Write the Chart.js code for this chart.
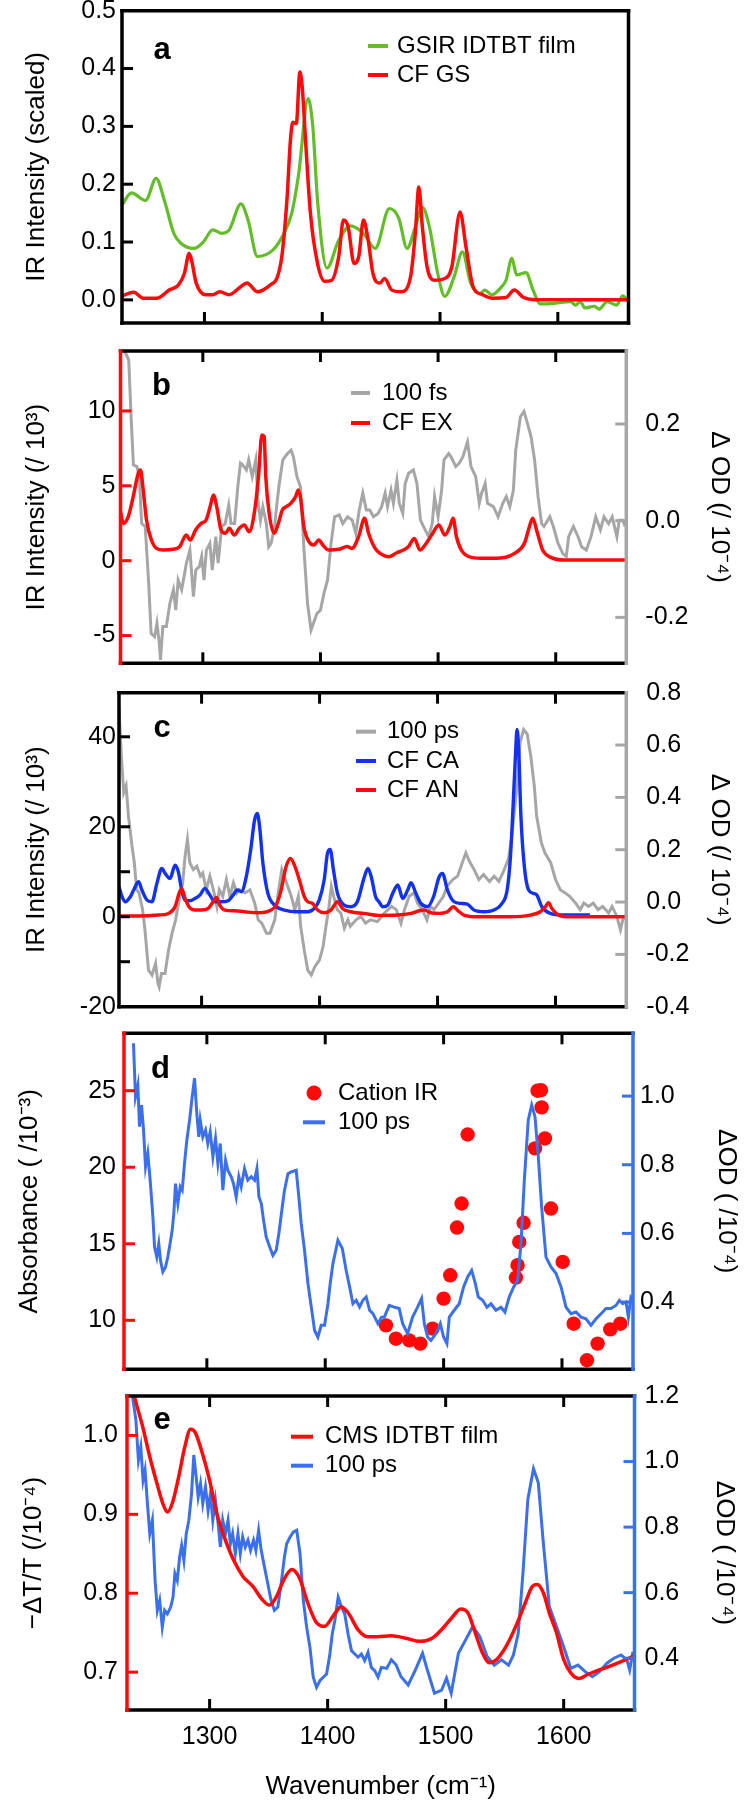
<!DOCTYPE html>
<html><head><meta charset="utf-8">
<script src="https://cdn.jsdelivr.net/npm/chart.js@4.4.1/dist/chart.umd.min.js"></script>
<style>
html,body{margin:0;padding:0;background:#fff;width:750px;height:1804px;overflow:hidden;position:relative;}
canvas{position:absolute;left:0;}
</style></head><body>
<script>
// ---------------- DATA ----------------
const xTicks = [1300, 1400, 1500, 1600];

// panel a
const aYTicks = [0.0, 0.1, 0.2, 0.3, 0.4, 0.5];
const aYMarks = [0.0, 0.1, 0.2, 0.3, 0.4];
const gsirFilm = [[1230,0.164],[1238,0.185],[1250,0.172],[1259,0.21],[1266,0.172],[1274,0.115],[1280,0.098],[1291,0.089],[1299,0.10],[1307,0.121],[1315,0.115],[1321,0.121],[1331,0.166],[1337,0.138],[1345,0.075],[1358,0.086],[1366,0.109],[1374,0.149],[1380,0.218],[1388,0.348],[1392,0.299],[1396,0.172],[1404,0.055],[1414,0.103],[1424,0.128],[1435,0.115],[1445,0.089],[1457,0.158],[1465,0.141],[1472,0.089],[1479,0.126],[1485,0.160],[1491,0.126],[1498,0.046],[1504,0.006],[1512,0.040],[1519,0.083],[1526,0.029],[1534,0.011],[1538,0.017],[1544,0.009],[1552,0.022],[1556,0.034],[1561,0.072],[1565,0.043],[1573,0.047],[1579,0.017],[1585,-0.007],[1597,-0.006],[1611,-0.003],[1615,-0.009],[1619,-0.003],[1623,-0.014],[1631,-0.011],[1635,-0.016],[1642,-0.003],[1650,-0.009],[1655,0.007],[1660,-0.003]];
const cfGS = [[1230,0.007],[1240,0.013],[1248,0.003],[1260,0.003],[1270,0.017],[1278,0.026],[1283,0.046],[1287,0.080],[1289,0.069],[1293,0.029],[1301,0.009],[1307,0.009],[1313,0.014],[1321,0.009],[1331,0.023],[1336,0.029],[1345,0.014],[1356,0.026],[1362,0.040],[1366,0.080],[1370,0.172],[1373,0.276],[1375,0.307],[1378,0.305],[1381,0.394],[1383,0.368],[1386,0.270],[1390,0.149],[1396,0.063],[1402,0.032],[1408,0.034],[1414,0.075],[1418,0.138],[1422,0.126],[1427,0.063],[1431,0.075],[1435,0.138],[1439,0.103],[1443,0.046],[1449,0.029],[1453,0.037],[1459,0.017],[1467,0.014],[1475,0.040],[1479,0.115],[1482,0.195],[1485,0.126],[1489,0.057],[1495,0.034],[1504,0.037],[1510,0.057],[1517,0.152],[1522,0.092],[1528,0.023],[1536,0.009],[1544,0.003],[1556,0.004],[1563,0.017],[1571,0.004],[1581,0.0],[1660,0.0]];

// panel b
const bYTicks = [-5, 0, 5, 10];
const bY1Ticks = [-0.2, 0.0, 0.2];
const fs100 = [[1232,0.36],[1235,0.343],[1237,0.332],[1239,0.215],[1241,0.115],[1244,0.112],[1246,0.091],[1248,-0.006],[1251,-0.012],[1254,-0.130],[1256,-0.233],[1259,-0.240],[1261,-0.212],[1263,-0.254],[1264,-0.288],[1266,-0.219],[1269,-0.219],[1272,-0.171],[1275,-0.143],[1277,-0.185],[1279,-0.123],[1282,-0.143],[1284,-0.116],[1286,-0.088],[1289,-0.061],[1292,-0.157],[1294,-0.102],[1297,-0.095],[1299,-0.074],[1301,-0.123],[1303,-0.061],[1306,-0.047],[1308,-0.102],[1311,-0.033],[1313,-0.088],[1316,-0.012],[1319,-0.006],[1322,0.032],[1324,-0.006],[1327,-0.006],[1330,0.077],[1332,0.119],[1334,0.115],[1337,0.105],[1339,0.126],[1342,0.091],[1345,0.126],[1347,0.036],[1349,0.001],[1351,0.029],[1354,-0.006],[1356,-0.054],[1358,-0.047],[1361,-0.012],[1363,0.036],[1365,0.077],[1368,0.126],[1372,0.139],[1375,0.146],[1377,0.132],[1380,0.091],[1383,0.070],[1386,-0.061],[1389,-0.171],[1392,-0.226],[1394,-0.212],[1397,-0.192],[1400,-0.185],[1403,-0.150],[1406,-0.123],[1409,-0.047],[1412,0.008],[1416,0.012],[1419,-0.006],[1423,0.008],[1427,0.001],[1430,-0.026],[1433,0.022],[1436,0.057],[1439,0.022],[1442,0.022],[1445,0.008],[1449,0.015],[1452,0.029],[1455,0.057],[1457,0.029],[1460,0.063],[1462,0.036],[1465,0.084],[1467,0.036],[1470,0.015],[1472,0.077],[1475,0.098],[1479,0.105],[1482,0.077],[1485,0.001],[1489,-0.019],[1492,-0.033],[1495,-0.006],[1497,0.050],[1500,0.008],[1503,0.063],[1505,0.126],[1509,0.139],[1511,0.132],[1515,0.112],[1518,0.119],[1521,0.132],[1525,0.163],[1528,0.112],[1532,0.091],[1535,0.036],[1537,0.057],[1540,0.077],[1542,0.036],[1547,0.029],[1551,0.008],[1555,0.036],[1558,0.050],[1561,0.029],[1564,0.063],[1566,0.146],[1570,0.215],[1573,0.226],[1576,0.201],[1579,0.174],[1582,0.126],[1585,0.050],[1588,-0.006],[1590,-0.012],[1595,0.008],[1598,-0.012],[1602,-0.047],[1606,-0.068],[1609,-0.074],[1611,-0.033],[1615,-0.012],[1619,-0.033],[1622,-0.054],[1626,-0.061],[1630,-0.033],[1634,0.008],[1638,-0.019],[1641,0.008],[1645,-0.006],[1648,0.008],[1652,-0.033],[1654,0.001],[1657,0.001],[1659,-0.012]];
const cfEX = [[1230,3.3],[1232.4,2.49],[1236.6,2.94],[1240.8,4.28],[1245.1,5.84],[1247,6.06],[1249.3,4.72],[1252.1,2.72],[1256.3,1.38],[1260.6,0.82],[1266.2,0.71],[1274.6,0.76],[1280.3,0.94],[1285.9,1.71],[1289.3,1.38],[1293.8,2.05],[1298.6,2.49],[1302.8,2.72],[1306.2,3.61],[1309,4.39],[1311.8,3.61],[1315.5,2.05],[1319.2,1.83],[1322.5,2.16],[1326.8,1.71],[1331,2.16],[1335.2,2.38],[1339.4,1.94],[1343.7,3.16],[1347.3,5.61],[1350.2,8.40],[1352.1,8.29],[1353.5,5.61],[1356.4,3.16],[1360.6,1.83],[1364.2,2.49],[1367.6,3.39],[1371,3.61],[1374.7,3.83],[1378.9,4.28],[1381.1,4.72],[1383.1,4.16],[1385.9,2.27],[1390.2,1.27],[1394.4,1.05],[1398.6,1.38],[1402,1.05],[1407.1,0.71],[1415.5,0.76],[1422.6,0.94],[1426.8,0.82],[1432.4,1.60],[1437.5,2.83],[1440.9,1.83],[1446.5,0.82],[1450.7,0.49],[1457.9,0.27],[1464.9,0.53],[1470.5,0.71],[1474.8,0.94],[1479.8,1.49],[1484.6,0.71],[1488.9,1.05],[1494.5,1.71],[1500.7,2.38],[1505.8,1.71],[1510,2.27],[1512.8,2.83],[1515.6,1.60],[1519.8,0.71],[1528.3,0.22],[1539.6,0.16],[1556.5,0.22],[1565,0.49],[1573.4,1.16],[1577.6,2.27],[1580.4,2.83],[1584.1,1.94],[1588.9,0.71],[1595.9,0.22],[1607.2,0.04],[1660,0.04]];

// panel c
const cYTicks = [-20, 0, 20, 40];
const cYMarks = [-10, 0, 10, 20, 40];
const cY1Ticks = [-0.4, -0.2, 0.0, 0.2, 0.4, 0.6, 0.8];
const cY1Marks = [-0.2, 0.0, 0.2, 0.4, 0.6];
const ps100c = [[1230,0.738],[1232,0.559],[1234,0.418],[1236,0.444],[1238,0.329],[1241,0.214],[1243,0.150],[1245,0.047],[1247,0.035],[1250,-0.029],[1252,-0.106],[1255,-0.260],[1258,-0.279],[1261,-0.234],[1263,-0.311],[1264,-0.324],[1266,-0.273],[1269,-0.273],[1272,-0.183],[1275,-0.119],[1278,-0.068],[1281,0.009],[1284,0.073],[1286,0.175],[1288,0.239],[1290,0.150],[1293,0.124],[1296,0.137],[1299,0.099],[1301,0.111],[1304,0.047],[1307,0.099],[1310,0.047],[1313,-0.017],[1315,0.047],[1318,0.022],[1321,0.086],[1324,0.022],[1327,0.073],[1330,0.035],[1332,0.047],[1337,0.035],[1341,0.047],[1345,-0.004],[1348,-0.068],[1351,-0.081],[1355,-0.119],[1358,-0.119],[1362,-0.068],[1365,0.035],[1368,0.124],[1370,0.099],[1373,0.060],[1376,0.022],[1379,-0.029],[1382,0.022],[1384,-0.093],[1387,-0.183],[1390,-0.260],[1393,-0.279],[1396,-0.247],[1400,-0.221],[1403,-0.170],[1405,-0.106],[1408,-0.017],[1410,0.060],[1412,0.022],[1415,-0.029],[1418,-0.042],[1421,-0.100],[1424,-0.068],[1426,-0.093],[1431,-0.068],[1435,-0.055],[1439,-0.081],[1443,-0.068],[1449,-0.075],[1455,-0.042],[1461,-0.017],[1465,-0.029],[1469,-0.081],[1472,-0.029],[1476,0.022],[1480,0.035],[1483,-0.004],[1487,-0.029],[1491,-0.068],[1494,-0.017],[1497,-0.029],[1501,-0.004],[1505,0.022],[1508,0.060],[1513,0.086],[1517,0.099],[1521,0.150],[1524,0.188],[1527,0.156],[1531,0.124],[1535,0.086],[1539,0.105],[1544,0.079],[1548,0.099],[1552,0.079],[1556,0.118],[1560,0.163],[1563,0.252],[1567,0.431],[1570,0.610],[1573,0.659],[1576,0.642],[1579,0.559],[1582,0.444],[1584,0.329],[1588,0.226],[1591,0.188],[1596,0.150],[1600,0.086],[1604,0.047],[1608,0.035],[1612,0.022],[1617,-0.004],[1621,-0.029],[1624,-0.004],[1628,-0.017],[1632,-0.004],[1636,-0.029],[1640,-0.017],[1645,-0.042],[1648,-0.017],[1652,-0.055],[1655,-0.106],[1657,-0.068],[1660,-0.05]];
const cfCA = [[1230,6.67],[1232.6,4.44],[1235.4,3.33],[1239.6,4.44],[1242.4,5.93],[1246.6,7.78],[1249.4,5.93],[1253.7,3.70],[1257.9,3.33],[1262.1,7.41],[1266.3,10.74],[1269.1,9.63],[1273.3,8.52],[1277.5,11.48],[1280.3,10.0],[1283.1,5.93],[1285.9,3.70],[1290.2,3.56],[1294.4,4.07],[1298.6,4.81],[1302.8,6.30],[1307,4.81],[1311.2,3.33],[1316.9,3.33],[1322.5,3.56],[1326.7,4.81],[1330.3,5.93],[1333.7,5.56],[1337.9,8.89],[1341.6,14.81],[1344.9,21.48],[1347.2,22.96],[1349.2,20.0],[1352,11.85],[1356.2,5.19],[1361.8,2.59],[1370.2,1.48],[1381.5,1.11],[1389.9,1.11],[1395.5,1.85],[1399.7,3.70],[1403.9,8.15],[1406.7,14.07],[1409,14.96],[1411.8,10.37],[1415.2,5.19],[1420.8,2.59],[1426.4,2.22],[1432,3.33],[1437.6,8.52],[1441,10.74],[1443.8,8.89],[1447.5,4.44],[1450.5,3.3],[1453.6,2.22],[1457.8,2.59],[1462,5.19],[1466.3,7.04],[1470.5,4.07],[1474.7,5.93],[1477.5,7.56],[1481.7,5.19],[1485.9,2.96],[1491.5,2.22],[1496.6,4.44],[1501.4,8.89],[1504.2,9.63],[1508.4,5.93],[1514,3.33],[1519.6,2.96],[1525.2,2.81],[1530.9,1.48],[1539.3,1.11],[1547.7,1.48],[1554.7,2.96],[1559,5.93],[1561.8,13.33],[1564,24.44],[1566,35.56],[1567.4,41.63],[1568.8,37.04],[1570.7,22.22],[1573.6,11.11],[1577.2,5.93],[1581.4,5.19],[1584.2,4.81],[1588.4,2.22],[1595.5,0.74],[1606.7,0.37],[1629.2,0.37]];
const cfAN = [[1230,0.15],[1246.6,0.15],[1263.5,0.37],[1271.9,0.74],[1277.5,2.22],[1280.9,5.19],[1283.1,6.30],[1286,4.07],[1289.3,2.22],[1294.4,1.48],[1300,1.48],[1305.6,1.85],[1309.8,3.33],[1312.6,4.30],[1315.4,2.59],[1319.7,1.48],[1328.1,1.33],[1336.5,1.11],[1347.8,0.89],[1357.6,1.33],[1363.2,2.59],[1367.4,5.93],[1371.6,11.11],[1375.3,12.96],[1378.7,11.48],[1382.9,8.15],[1387.1,4.44],[1390,3.33],[1394.1,2.96],[1398.3,1.48],[1403.9,0.89],[1409.6,1.48],[1415.2,3.33],[1419.4,1.85],[1426.4,1.11],[1437.6,0.74],[1450,0.3],[1466.3,0.37],[1477.5,0.74],[1484.5,1.33],[1488.7,1.48],[1494.4,0.89],[1501.4,0.74],[1508.4,1.11],[1513.4,2.22],[1516.8,1.48],[1522.4,0.37],[1533.7,0],[1561.8,0],[1578.6,0.37],[1587.1,1.11],[1591.3,2.22],[1594.1,3.11],[1596.9,1.85],[1602.5,0.37],[1609.6,0],[1660,0]];

// panel d
const dYTicks = [10, 15, 20, 25];
const dY1Ticks = [0.4, 0.6, 0.8, 1.0];
const cationIR = [[1451.3,9.67],[1459.7,8.80],[1471,8.69],[1480.3,8.48],[1490.7,9.46],[1500,11.42],[1505.6,12.94],[1511.3,16.06],[1515.2,17.63],[1520.3,22.14],[1561.1,12.79],[1562.5,13.60],[1563.9,15.12],[1567.6,16.37],[1577.2,21.23],[1579.4,25.0],[1582.3,25.04],[1582.8,23.91],[1585.6,21.88],[1590.7,17.30],[1600.6,13.82],[1609.9,9.78],[1621.1,7.39],[1630.1,8.48],[1640.8,9.41],[1649.3,9.78]];
const ps100d = [[1238,1.154],[1239.7,0.998],[1241.7,1.032],[1243.1,0.911],[1244.8,0.974],[1246.5,0.901],[1248.2,0.794],[1250.1,0.833],[1252.1,0.755],[1254.4,0.648],[1255.8,0.561],[1257.7,0.531],[1259.4,0.570],[1260.8,0.522],[1262.8,0.488],[1265.1,0.502],[1267,0.531],[1268.5,0.561],[1270.7,0.609],[1272.1,0.658],[1273.5,0.745],[1275.5,0.687],[1277.5,0.736],[1279.2,0.726],[1281.1,0.804],[1283.1,0.872],[1285.4,0.930],[1287.6,0.998],[1289.6,1.052],[1291.5,0.949],[1293.2,0.881],[1294.4,0.930],[1296.6,0.881],[1298.9,0.901],[1300.8,0.862],[1302.8,0.896],[1305.1,0.823],[1307.3,0.877],[1309.3,0.804],[1311.3,0.862],[1313.5,0.726],[1315.8,0.813],[1317.7,0.784],[1320.6,0.765],[1322.5,0.745],[1324.8,0.706],[1327,0.765],[1329,0.736],[1331.8,0.789],[1334.6,0.755],[1337.5,0.765],[1340.3,0.755],[1342.3,0.789],[1344,0.706],[1346,0.687],[1347.9,0.638],[1350.1,0.590],[1353,0.561],[1355.8,0.536],[1358.6,0.551],[1360.8,0.599],[1363.7,0.677],[1365.6,0.726],[1368.5,0.774],[1371.3,0.779],[1375.5,0.784],[1377.7,0.706],[1379.7,0.629],[1382.5,0.551],[1385.4,0.454],[1388.2,0.386],[1391,0.317],[1393.8,0.298],[1396.6,0.332],[1399.4,0.332],[1402.3,0.395],[1404.2,0.454],[1406.5,0.512],[1410.7,0.580],[1414.4,0.556],[1417.7,0.492],[1420.6,0.444],[1423.4,0.395],[1426.2,0.405],[1429,0.386],[1431.8,0.405],[1434.6,0.415],[1437.5,0.376],[1440.3,0.366],[1444.5,0.337],[1447.6,0.356],[1449.9,0.356],[1454.1,0.390],[1458.3,0.385],[1462.5,0.381],[1465.4,0.337],[1469.6,0.308],[1473.8,0.356],[1478,0.385],[1481.4,0.410],[1483.7,0.337],[1486.5,0.298],[1489.3,0.288],[1493.5,0.308],[1497.2,0.337],[1500,0.298],[1502.8,0.279],[1504.8,0.356],[1509,0.376],[1513.2,0.395],[1516.9,0.444],[1520.3,0.473],[1523.7,0.492],[1526.5,0.458],[1529.3,0.415],[1533,0.405],[1536.6,0.385],[1540,0.395],[1544.2,0.376],[1548.5,0.385],[1551.8,0.371],[1555.5,0.415],[1559.2,0.444],[1562.5,0.463],[1565.4,0.570],[1568.2,0.755],[1571.5,0.930],[1574.4,0.974],[1577.2,0.940],[1580,0.823],[1582.8,0.677],[1586.5,0.531],[1590.7,0.502],[1595,0.483],[1599.2,0.444],[1603.4,0.385],[1607.6,0.366],[1611.8,0.371],[1616.1,0.356],[1620.3,0.351],[1624.5,0.332],[1628.7,0.351],[1633,0.366],[1637.2,0.381],[1641.4,0.381],[1645.6,0.390],[1648.5,0.405],[1651.3,0.395],[1654.1,0.400],[1656.1,0.356],[1658.3,0.415],[1660,0.41]];

// panel e
const eYTicks = [0.7, 0.8, 0.9, 1.0];
const eY1Ticks = [0.4, 0.6, 0.8, 1.0, 1.2];
const eY1Marks = [0.4, 0.6, 0.8, 1.0];
const cmsFilm = [[1236.4,1.048],[1243.3,1.011],[1249.3,0.973],[1255.4,0.939],[1260.3,0.914],[1264.3,0.903],[1268.4,0.914],[1273.7,0.947],[1278.9,0.985],[1283.8,1.008],[1287.8,1.004],[1293.9,0.977],[1300,0.943],[1306.1,0.901],[1312.2,0.872],[1320.3,0.842],[1328.4,0.821],[1336.5,0.809],[1344.6,0.792],[1350.7,0.785],[1356.7,0.796],[1362.8,0.817],[1369.7,0.830],[1376.2,0.819],[1383.1,0.788],[1390,0.764],[1397.3,0.758],[1404.6,0.771],[1411.5,0.783],[1417.5,0.775],[1425.7,0.754],[1433.8,0.745],[1441.9,0.745],[1454,0.746],[1466.2,0.743],[1478.4,0.739],[1488.5,0.743],[1496.6,0.754],[1504.7,0.768],[1512.8,0.780],[1518.9,0.775],[1525,0.750],[1531,0.725],[1537.1,0.712],[1543.2,0.716],[1551.3,0.733],[1559.4,0.758],[1567.5,0.788],[1573.6,0.809],[1577.7,0.811],[1582.9,0.800],[1587.8,0.775],[1593.9,0.750],[1600,0.716],[1606,0.699],[1612.9,0.692],[1620.2,0.697],[1628.3,0.702],[1636.4,0.706],[1646.6,0.712],[1658.7,0.720],[1660,0.721]];
const ps100e = [[1234.7,1.198],[1237.5,1.127],[1239.7,1.004],[1241.7,1.045],[1243.6,0.943],[1245.3,0.974],[1247.3,0.872],[1249.3,0.780],[1251.5,0.821],[1253.8,0.637],[1255.7,0.546],[1257.7,0.576],[1259.9,0.495],[1261.9,0.546],[1264.2,0.535],[1267,0.556],[1269,0.586],[1270.6,0.658],[1272.6,0.637],[1274.6,0.709],[1276.3,0.744],[1278.2,0.698],[1280.2,0.780],[1282.4,0.821],[1284.7,0.903],[1286.6,1.020],[1288.6,0.953],[1290.3,0.892],[1292.3,0.933],[1294.2,0.872],[1296.5,0.923],[1298.7,0.851],[1300.7,0.902],[1302.7,0.821],[1304.9,0.882],[1307.2,0.811],[1309.1,0.740],[1311.1,0.821],[1313.4,0.780],[1315.6,0.821],[1317.6,0.749],[1319.5,0.780],[1321.8,0.719],[1324,0.780],[1326,0.719],[1328,0.770],[1330.2,0.739],[1332.5,0.760],[1334.7,0.729],[1337.2,0.760],[1339.2,0.729],[1341.5,0.790],[1343.7,0.729],[1346.5,0.678],[1349.3,0.627],[1352.1,0.576],[1354.9,0.546],[1357.8,0.556],[1360.6,0.627],[1363.4,0.709],[1365.3,0.749],[1368.2,0.770],[1371,0.785],[1373.8,0.790],[1376.6,0.719],[1379.4,0.576],[1382.2,0.495],[1385,0.433],[1387.8,0.342],[1390.6,0.311],[1393.5,0.332],[1396.3,0.342],[1399.1,0.352],[1401.9,0.413],[1403.9,0.474],[1406.1,0.515],[1408.9,0.586],[1411.7,0.556],[1414.5,0.535],[1417.3,0.474],[1420.2,0.423],[1423,0.413],[1425.8,0.403],[1428.6,0.413],[1431.4,0.393],[1434.2,0.418],[1437,0.372],[1439.9,0.362],[1442.7,0.342],[1445.5,0.372],[1450,0.369],[1454,0.395],[1458.1,0.379],[1462.1,0.344],[1468.2,0.318],[1474.3,0.364],[1480.4,0.415],[1484.5,0.364],[1490.5,0.293],[1496.6,0.303],[1500.7,0.339],[1504.7,0.293],[1510.8,0.415],[1516.9,0.456],[1523,0.497],[1529,0.466],[1535.1,0.405],[1541.2,0.379],[1547.3,0.395],[1553.3,0.379],[1557.4,0.410],[1561.5,0.476],[1565.5,0.660],[1569.6,0.884],[1574.4,0.978],[1578.5,0.935],[1582.5,0.762],[1587.8,0.558],[1593.9,0.497],[1600,0.435],[1606,0.369],[1612.1,0.379],[1618.2,0.359],[1624.3,0.344],[1630.4,0.359],[1636.4,0.384],[1642.5,0.400],[1648.6,0.410],[1653.5,0.395],[1655.9,0.364],[1658.7,0.420]];

// ---------------- STYLE / LAYOUT ----------------
const RED = '#ff0a0a', GREEN = '#62bd26', GRAY = '#a6a6a6', BLUE = '#1232f0', BLUE2 = '#3b70ea', BLACK = '#000';
const FONT = "'Liberation Sans', Arial, Helvetica, sans-serif";
const TICK_SIZE = 25;
Chart.defaults.font.family = FONT;
Chart.defaults.color = BLACK;

const G = {
  a: {L:122, R:628.5, T:10.7, B:323},
  b: {L:120.5, R:626.3, T:351, B:663.3},
  c: {L:119, R:626.3, T:692.7, B:1006.7},
  d: {L:124, R:633, T:1033.3, B:1369.3},
  e: {L:127, R:634.5, T:1396, B:1710}
};

const deco = {
  id: 'deco',
  afterDraw(chart, args, o) {
    const ctx = chart.ctx, ca = chart.chartArea;
    const L = ca.left, R = ca.right, T = ca.top, B = ca.bottom;
    ctx.save();
    const TL = 11;
    ctx.lineWidth = 3;
    ctx.lineCap = 'butt';
    (o.marks || []).forEach(m => {
      const sc = chart.scales[m.scale];
      ctx.strokeStyle = m.color;
      m.values.forEach(v => {
        const p = sc.getPixelForValue(v);
        ctx.beginPath();
        if (m.side === 'left') { ctx.moveTo(L, p); ctx.lineTo(L + TL, p); }
        else if (m.side === 'right') { ctx.moveTo(R, p); ctx.lineTo(R - TL, p); }
        else if (m.side === 'top') { ctx.moveTo(p, T); ctx.lineTo(p, T + TL); }
        else { ctx.moveTo(p, B); ctx.lineTo(p, B - TL); }
        ctx.stroke();
      });
    });
    const f = o.frame;
    ctx.lineWidth = 3.5;
    const seg = (c, x1, y1, x2, y2) => { ctx.strokeStyle = c; ctx.beginPath(); ctx.moveTo(x1, y1); ctx.lineTo(x2, y2); ctx.stroke(); };
    seg(f.top, L - 1.75, T, R + 1.75, T);
    seg(f.bottom, L - 1.75, B, R + 1.75, B);
    seg(f.left, L, T - 1.75, L, B + 1.75);
    seg(f.right, R, T - 1.75, R, B + 1.75);
    // legend
    const lg = o.legend, oy = o.offY;
    ctx.font = '24px ' + FONT;
    ctx.textBaseline = 'middle';
    ctx.textAlign = 'left';
    lg.items.forEach(([di, y]) => {
      const ds = chart.data.datasets[di];
      const yy = y - oy;
      if (ds.showLine === false) {
        ctx.fillStyle = ds.pointBackgroundColor;
        ctx.beginPath(); ctx.arc((lg.x1 + lg.x2) / 2, yy, 7.5, 0, Math.PI * 2); ctx.fill();
      } else {
        ctx.strokeStyle = ds.borderColor; ctx.lineWidth = 4;
        ctx.beginPath(); ctx.moveTo(lg.x1, yy); ctx.lineTo(lg.x2, yy); ctx.stroke();
      }
      ctx.fillStyle = BLACK;
      ctx.fillText(ds.label, lg.tx, yy);
    });
    // panel letter
    ctx.font = 'bold 31px ' + FONT;
    ctx.textBaseline = 'alphabetic';
    ctx.textAlign = 'center';
    ctx.fillText(o.letter.text, o.letter.x, o.letter.y - oy);
    ctx.restore();
  }
};
Chart.register(deco);

const fmt = d => v => (Math.abs(v) < 1e-9 ? 0 : v).toFixed(d);
const pts = a => a.map(p => ({x: p[0], y: p[1]}));

function line(label, arr, color, width, yAxisID, order, smooth) {
  return {label, data: pts(arr), borderColor: color, backgroundColor: color, borderWidth: width,
    showLine: true, pointRadius: 0, pointHoverRadius: 0, tension: 0,
    cubicInterpolationMode: smooth ? 'monotone' : 'default', yAxisID, order, fill: false};
}

function yScale(pos, g, min, max, labels, dec, pad, title, titlePad) {
  return {
    type: 'linear', position: pos, min, max,
    afterFit: s => { s.width = pos === 'left' ? g.L : 750 - g.R; },
    afterBuildTicks: s => { s.ticks = labels.map(v => ({value: v})); },
    ticks: {callback: fmt(dec), padding: pad, font: {size: TICK_SIZE}, color: BLACK, autoSkip: false},
    grid: {display: false, drawTicks: false},
    border: {display: false},
    title: {display: true, text: title, font: {size: 26}, color: BLACK, padding: {top: titlePad, bottom: 0}}
  };
}

function xScale(g, showX) {
  return {
    type: 'linear', min: 1230, max: 1660, display: showX,
    afterFit: s => { s.height = showX ? 1804 - g.B : 0; },
    afterBuildTicks: s => { s.ticks = xTicks.map(v => ({value: v})); },
    ticks: {padding: 12, font: {size: TICK_SIZE}, color: BLACK, autoSkip: false, maxRotation: 0, callback: v => String(v)},
    grid: {display: false, drawTicks: false},
    border: {display: false},
    title: {display: showX, text: 'Wavenumber (cm⁻¹)', font: {size: 26}, color: BLACK, padding: {top: 0, bottom: 1.4}}
  };
}

function build(g, datasets, yScales, dec, showX) {
  const top = Math.floor(g.T - 40);
  const h = showX ? 1804 - top : Math.ceil(g.B + 40 - top);
  const cv = document.createElement('canvas');
  cv.width = 750; cv.height = h; cv.style.top = top + 'px';
  document.body.appendChild(cv);
  const hasRight = !!yScales.y1;
  dec.offY = top;
  new Chart(cv.getContext('2d'), {
    type: 'scatter',
    data: {datasets},
    options: {
      responsive: false, animation: false, devicePixelRatio: 1,
      layout: {padding: {top: g.T - top, bottom: showX ? 0 : h - (g.B - top), left: 0, right: hasRight ? 0 : 750 - g.R}},
      plugins: {legend: {display: false}, tooltip: {enabled: false}, deco: dec},
      scales: Object.assign({x: xScale(g, showX)}, yScales)
    }
  });
}

// ---------------- PANELS ----------------
build(G.a,
  [line('GSIR IDTBT film', gsirFilm, GREEN, 3.2, 'y', 1, true),
   line('CF GS', cfGS, RED, 3.5, 'y', 0, true)],
  {y: yScale('left', G.a, -0.04, 0.5, aYTicks, 1, 6, 'IR Intensity (scaled)', 21.7)},
  {frame: {top: BLACK, bottom: BLACK, left: BLACK, right: BLACK},
   marks: [{scale: 'y', side: 'left', values: aYMarks, color: BLACK},
           {scale: 'x', side: 'bottom', values: xTicks, color: BLACK}],
   legend: {x1: 368, x2: 388, tx: 397, items: [[0, 46], [1, 75]]},
   letter: {text: 'a', x: 162, y: 59.3}}, false);

build(G.b,
  [line('100 fs', fs100, GRAY, 3, 'y1', 1, false),
   line('CF EX', cfEX, RED, 3.5, 'y', 0, true)],
  {y: yScale('left', G.b, -6.85, 14.0, bYTicks, 0, 5, 'IR Intensity (/ 10³)', 21.7),
   y1: yScale('right', G.b, -0.295, 0.351, bY1Ticks, 1, 19, 'Δ OD (/ 10⁻⁴)', 15.4)},
  {frame: {top: BLACK, bottom: BLACK, left: RED, right: GRAY},
   marks: [{scale: 'y', side: 'left', values: bYTicks, color: RED},
           {scale: 'y1', side: 'right', values: bY1Ticks, color: GRAY},
           {scale: 'x', side: 'top', values: xTicks, color: BLACK},
           {scale: 'x', side: 'bottom', values: xTicks, color: BLACK}],
   legend: {x1: 351, x2: 370, tx: 382, items: [[0, 393], [1, 423]]},
   letter: {text: 'b', x: 161.5, y: 395}}, false);

build(G.c,
  [line('100 ps', ps100c, GRAY, 3, 'y1', 2, false),
   line('CF CA', cfCA, BLUE, 3.4, 'y', 1, true),
   line('CF AN', cfAN, RED, 3.4, 'y', 0, true)],
  {y: yScale('left', G.c, -20, 49.8, cYTicks, 0, 3, 'IR Intensity (/ 10³)', 21.7),
   y1: yScale('right', G.c, -0.4, 0.8, cY1Ticks, 1, 20, 'Δ OD (/ 10⁻⁴)', 15.4)},
  {frame: {top: BLACK, bottom: BLACK, left: BLACK, right: GRAY},
   marks: [{scale: 'y', side: 'left', values: cYMarks, color: BLACK},
           {scale: 'y1', side: 'right', values: cY1Marks, color: GRAY},
           {scale: 'x', side: 'top', values: xTicks, color: BLACK},
           {scale: 'x', side: 'bottom', values: xTicks, color: BLACK}],
   legend: {x1: 356, x2: 376, tx: 387, items: [[0, 731.7], [1, 761], [2, 790]]},
   letter: {text: 'c', x: 162, y: 737}}, false);

build(G.d,
  [{label: 'Cation IR', data: pts(cationIR), showLine: false, pointRadius: 7.2, pointHoverRadius: 7.2,
    pointBackgroundColor: RED, backgroundColor: RED, borderColor: RED, pointBorderWidth: 0, yAxisID: 'y', order: 1},
   line('100 ps', ps100d, BLUE2, 3, 'y1', 0, false)],
  {y: yScale('left', G.d, 6.8, 28.75, dYTicks, 0, 8, 'Absorbance ( /10⁻³)', 14),
   y1: yScale('right', G.d, 0.204, 1.183, dY1Ticks, 1, 7, 'ΔOD ( /10⁻⁴)', 8.4)},
  {frame: {top: BLACK, bottom: BLACK, left: RED, right: BLUE2},
   marks: [{scale: 'y', side: 'left', values: dYTicks, color: RED},
           {scale: 'y1', side: 'right', values: dY1Ticks, color: BLUE2},
           {scale: 'x', side: 'top', values: xTicks, color: BLACK},
           {scale: 'x', side: 'bottom', values: xTicks, color: BLACK}],
   legend: {x1: 303, x2: 325, tx: 338, items: [[0, 1093], [1, 1122.3]]},
   letter: {text: 'd', x: 160.5, y: 1078}}, false);

build(G.e,
  [line('CMS IDTBT film', cmsFilm, RED, 3.5, 'y', 0, true),
   line('100 ps', ps100e, BLUE2, 3, 'y1', 1, false)],
  {y: yScale('left', G.e, 0.652, 1.050, eYTicks, 1, 9, '−ΔT/T (/10⁻⁴)', 18),
   y1: yScale('right', G.e, 0.242, 1.2, eY1Ticks, 1, 10, 'ΔOD ( /10⁻⁴)', 10.4)},
  {frame: {top: BLACK, bottom: BLACK, left: RED, right: BLUE2},
   marks: [{scale: 'y', side: 'left', values: eYTicks, color: RED},
           {scale: 'y1', side: 'right', values: eY1Marks, color: BLUE2},
           {scale: 'x', side: 'top', values: xTicks, color: BLACK},
           {scale: 'x', side: 'bottom', values: xTicks, color: BLACK}],
   legend: {x1: 291, x2: 313, tx: 325, items: [[0, 1436.7], [1, 1465.7]]},
   letter: {text: 'e', x: 162, y: 1429}}, true);
</script>
</body></html>
